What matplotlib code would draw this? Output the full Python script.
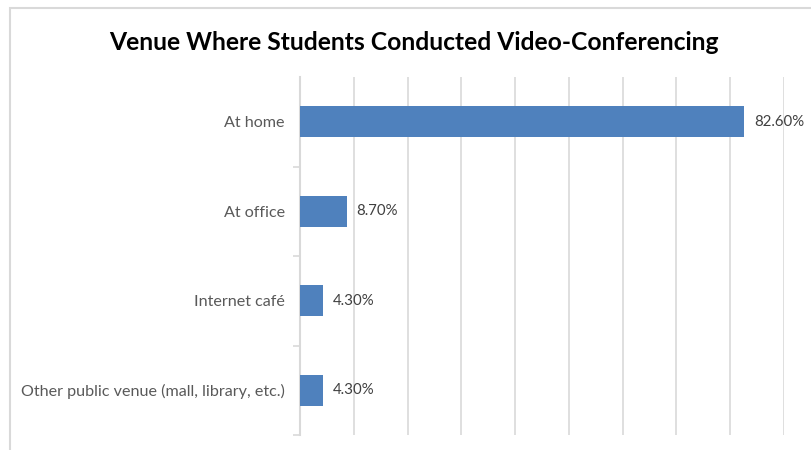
import matplotlib.pyplot as plt
from matplotlib.patches import Rectangle

venues = ["At home", "At office", "Internet café", "Other public venue (mall, library, etc.)"]
shares = [82.6, 8.7, 4.3, 4.3]
value_labels = ["82.60%", "8.70%", "4.30%", "4.30%"]

W, H = 811, 450
fig = plt.figure(figsize=(W / 100, H / 100), dpi=100)

# chart-area outline, runs off the right/bottom edge
fig.patches.append(Rectangle((10 / W, -0.2), 1.0, 1.2 - 8 / H, transform=fig.transFigure,
                             fill=False, edgecolor="#d9d9d9", lw=1.5, clip_on=False))

left, right, top, bottom = 300, 784, 77, 435
ax = fig.add_axes([left / W, 1 - bottom / H, (right - left) / W, (bottom - top) / H])

ypos = list(range(len(venues)))
ax.barh(ypos, shares, height=0.35, color="#4f81bd", zorder=3)
for y, v, lab in zip(ypos, shares, value_labels):
    ax.annotate(lab, (v, y), xytext=(7, 0), textcoords="offset points",
                va="center", ha="left", fontsize=10.8, color="#404040", family="Lato")

ax.set_xlim(0, 90)
ax.set_ylim(len(venues) - 0.5, -0.5)
ax.set_xticks(range(10, 91, 10))
ax.xaxis.grid(True, color="#d9d9d9", lw=1.2, zorder=0)
ax.tick_params(axis="x", length=0, labelbottom=False)

ax.set_yticks([i + 0.5 for i in ypos])
ax.set_yticks(ypos, minor=True)
ax.set_yticklabels([], minor=False)
ax.set_yticklabels(venues, minor=True, fontsize=11.6, color="#595959", family="Lato")
ax.tick_params(axis="y", which="major", length=5, color="#d9d9d9", width=1.2)
ax.tick_params(axis="y", which="minor", length=0, pad=11)

for s in ["top", "right", "bottom"]:
    ax.spines[s].set_visible(False)
ax.spines["left"].set_color("#d9d9d9")
ax.spines["left"].set_linewidth(1.5)

fig.text(414 / W, 1 - 42 / H, "Venue Where Students Conducted Video-Conferencing",
         ha="center", va="center", fontsize=17.7, fontweight="bold",
         color="black", family="Lato")

fig.savefig("out.png", dpi=100)
